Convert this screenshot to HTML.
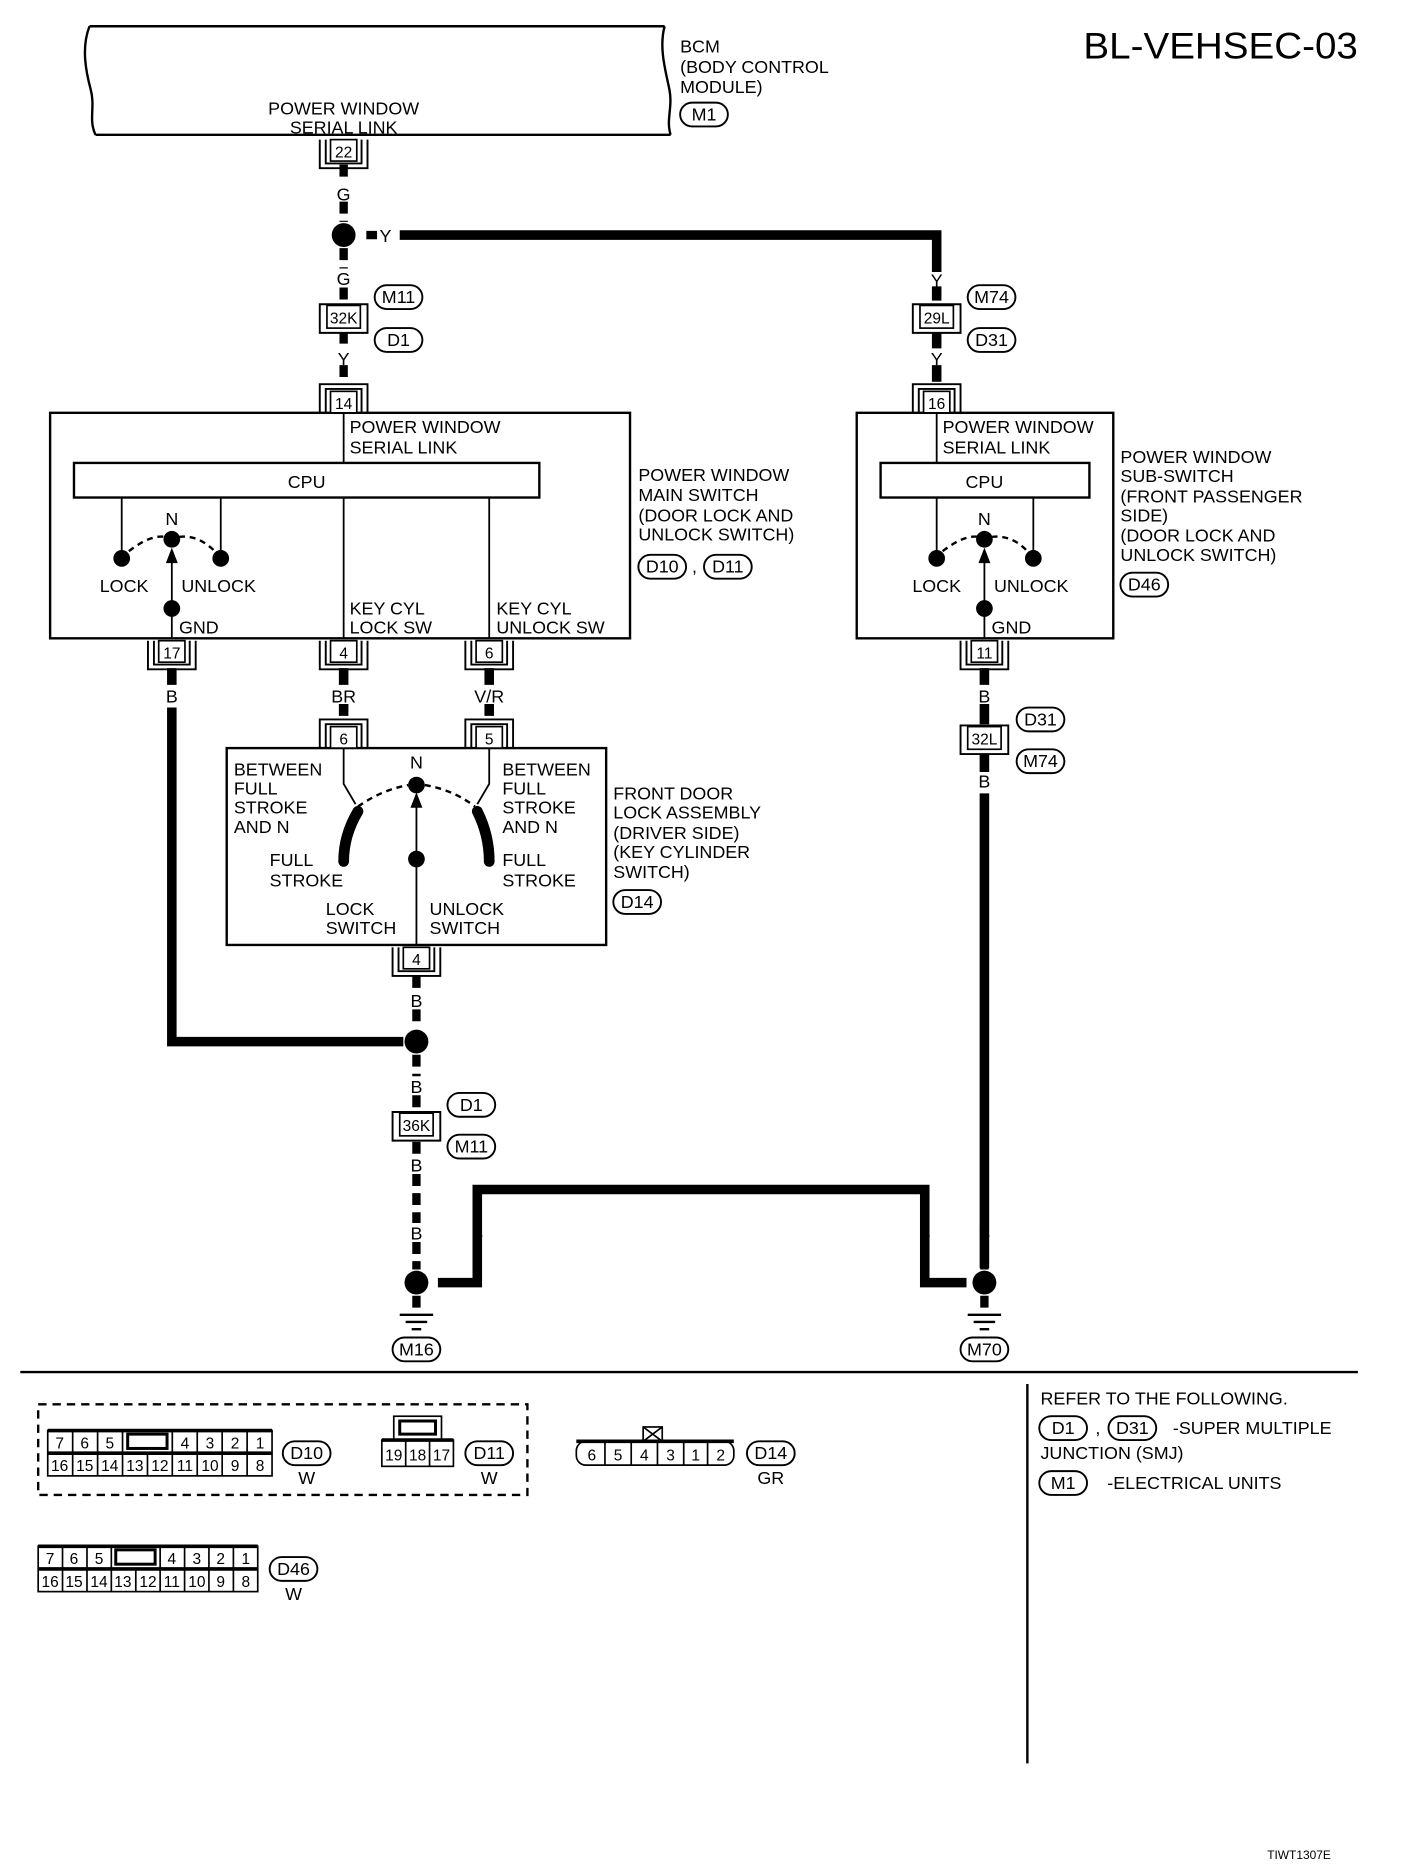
<!DOCTYPE html>
<html><head><meta charset="utf-8"><style>
html,body{margin:0;padding:0;background:#fff}
svg{display:block}
text{font-family:"Liberation Sans",sans-serif;font-size:15px;fill:#000}
.s{font-size:13px}
.m{text-anchor:middle}
</style></head><body>
<svg width="1408" height="1872" viewBox="0 0 1180 1569" preserveAspectRatio="none" xmlns="http://www.w3.org/2000/svg">
<defs>
<g id="cd"><path d="M-20,0 V24 H20 V0 M-15,0 V20 H15 V0" fill="none" stroke="#000" stroke-width="1.6"/><rect x="-11" y="0" width="22" height="18" fill="#fff" stroke="#000" stroke-width="1.4"/></g>
<g id="cu"><path d="M-20,26 V2 H20 V26 M-15,26 V6 H15 V26" fill="none" stroke="#000" stroke-width="1.6"/><rect x="-11" y="8" width="22" height="18" fill="#fff" stroke="#000" stroke-width="1.4"/></g>
<g id="ci"><path d="M-20,2 V26 H20 V2 Z" fill="#fff" stroke="#000" stroke-width="1.6"/><rect x="-14" y="3" width="28" height="19" fill="#fff" stroke="#000" stroke-width="1.4"/></g>
<g id="gnd"><path d="M-14,0 H14 M-9,6 H9 M-4,12 H4" stroke="#000" stroke-width="2"/></g>
</defs>
<g fill="none" stroke="#000" stroke-width="2">
<path d="M75,22 H557 M80,113 H562"/>
<path d="M75,22 C68,40 72,60 76,75 C80,90 74,100 80,113"/>
<path d="M557,22 C552,40 558,60 561,75 C564,90 558,100 562,113"/>
<rect x="42" y="346" width="486" height="189"/>
<rect x="62" y="388" width="390" height="29"/>
<path d="M288,346 V388 M288,417 V535 M410,417 V535 M102,417 V462 M185,417 V462 M144,535 V510 M144,504 V470" stroke-width="1.5"/>
<path d="M108,462 Q126,448 138,450 M150,450 Q166,448 180,462" stroke-dasharray="5,4"/>
<rect x="718" y="346" width="215" height="189"/>
<rect x="738" y="388" width="175" height="29"/>
<path d="M785,346 V388 M785,417 V462 M866,417 V462 M825,535 V510 M825,504 V470" stroke-width="1.5"/>
<path d="M790,462 Q808,448 820,450 M831,450 Q848,448 861,462" stroke-dasharray="5,4"/>
<rect x="190" y="627" width="318" height="165"/>
<path d="M288,627 V657 L298,674 M410,627 V657 L400,674 M349,792 V672" stroke-width="1.5"/>
<path d="M300,676 Q320,662 342,658 M356,658 Q380,662 398,676" stroke-dasharray="5,4"/>
<path d="M300,680 Q288,700 288,722 M400,680 Q410,700 410,722" stroke-width="9" stroke-linecap="round"/>
<path d="M335,197 H785 V228 M785,240 V252 M785,278 V292 M785,306 V320 M144,593 V873 H338 M825,665 V1063 M367,1075 H400 V997 H775 V1075 H810 M400,1043 V1063 M775,1043 V1063" stroke-width="8"/>
<path d="M825,560 V574 M825,590 V607 M825,632 V647" stroke-width="8"/>
<path d="M144,560 V574 M288,560 V574 M288,590 V600 M410,560 V574 M410,590 V600" stroke-width="8"/>
<path d="M288,138 V153 M288,169 V186 M288,208 V225 M288,241 V255 M288,278 V292 M288,306 V320 M307,197 H316 M349,818 V830 M349,846 V862 M349,884 V902 M349,918 V930 M349,957 V968 M349,984 V1025 M349,1041 V1064 M349,1086 V1100 M825,1041 V1064 M825,1086 V1100" stroke-width="7" stroke-dasharray="10,6"/>
</g>
<g fill="#000">
<circle cx="288" cy="197" r="10"/><circle cx="349" cy="873" r="10"/><circle cx="349" cy="1075" r="10"/><circle cx="825" cy="1075" r="10"/>
<circle cx="102" cy="468" r="7"/><circle cx="185" cy="468" r="7"/><circle cx="144" cy="452" r="7"/><circle cx="144" cy="510" r="7"/>
<circle cx="785" cy="468" r="7"/><circle cx="866" cy="468" r="7"/><circle cx="825" cy="452" r="7"/><circle cx="825" cy="510" r="7"/>
<circle cx="349" cy="658" r="7"/><circle cx="349" cy="720" r="7"/>
<path d="M144,459 L139,472 H149Z M825,459 L820,472 H830Z M349,664 L344,677 H354Z"/>
</g>
<use href="#gnd" x="349" y="1102"/><use href="#gnd" x="825" y="1102"/>
<use href="#cd" x="288" y="117"/><text class="s m" x="288" y="132">22</text>
<use href="#ci" x="288" y="253"/><text class="s m" x="288" y="271">32K</text>
<use href="#ci" x="785" y="253"/><text class="s m" x="785" y="271">29L</text>
<use href="#cu" x="288" y="320"/><text class="s m" x="288" y="343">14</text>
<use href="#cu" x="785" y="320"/><text class="s m" x="785" y="343">16</text>
<use href="#cd" x="144" y="537"/><text class="s m" x="144" y="552">17</text>
<use href="#cd" x="288" y="537"/><text class="s m" x="288" y="552">4</text>
<use href="#cd" x="410" y="537"/><text class="s m" x="410" y="552">6</text>
<use href="#cd" x="825" y="537"/><text class="s m" x="825" y="552">11</text>
<use href="#cu" x="288" y="601"/><text class="s m" x="288" y="624">6</text>
<use href="#cu" x="410" y="601"/><text class="s m" x="410" y="624">5</text>
<use href="#ci" x="825" y="606"/><text class="s m" x="825" y="624">32L</text>
<use href="#cd" x="349" y="794"/><text class="s m" x="349" y="809">4</text>
<use href="#ci" x="349" y="930"/><text class="s m" x="349" y="948">36K</text>
<g fill="none" stroke="#000" stroke-width="1.6">
<rect x="570" y="86" width="40" height="20" rx="10"/>
<rect x="314" y="239" width="40" height="20" rx="10"/><rect x="314" y="275" width="40" height="20" rx="10"/>
<rect x="811" y="239" width="40" height="20" rx="10"/><rect x="811" y="275" width="40" height="20" rx="10"/>
<rect x="535" y="465" width="40" height="20" rx="10"/><rect x="590" y="465" width="40" height="20" rx="10"/>
<rect x="939" y="480" width="40" height="20" rx="10"/>
<rect x="852" y="593" width="40" height="20" rx="10"/><rect x="852" y="628" width="40" height="20" rx="10"/>
<rect x="514" y="746" width="40" height="20" rx="10"/>
<rect x="375" y="916" width="40" height="20" rx="10"/><rect x="375" y="951" width="40" height="20" rx="10"/>
<rect x="329" y="1121" width="40" height="20" rx="10"/><rect x="805" y="1121" width="40" height="20" rx="10"/>
<rect x="237" y="1208" width="40" height="20" rx="10"/><rect x="390" y="1208" width="40" height="20" rx="10"/><rect x="626" y="1208" width="40" height="20" rx="10"/>
<rect x="226" y="1305" width="40" height="20" rx="10"/>
<rect x="871" y="1187" width="40" height="20" rx="10"/><rect x="929" y="1187" width="40" height="20" rx="10"/><rect x="871" y="1233" width="40" height="20" rx="10"/>
</g>
<g>
<text class="m" x="590" y="101">M1</text>
<text class="m" x="334" y="254">M11</text><text class="m" x="334" y="290">D1</text>
<text class="m" x="831" y="254">M74</text><text class="m" x="831" y="290">D31</text>
<text class="m" x="555" y="480">D10</text><text x="582" y="480" class="m">,</text><text class="m" x="610" y="480">D11</text>
<text class="m" x="959" y="495">D46</text>
<text class="m" x="872" y="608">D31</text><text class="m" x="872" y="643">M74</text>
<text class="m" x="534" y="761">D14</text>
<text class="m" x="395" y="931">D1</text><text class="m" x="395" y="966">M11</text>
<text class="m" x="349" y="1136">M16</text><text class="m" x="825" y="1136">M70</text>
<text class="m" x="257" y="1223">D10</text><text class="m" x="410" y="1223">D11</text><text class="m" x="646" y="1223">D14</text>
<text class="m" x="246" y="1320">D46</text>
<text class="m" x="891" y="1202">D1</text><text class="m" x="949" y="1202">D31</text><text class="m" x="891" y="1248">M1</text>
</g>
<g>
<text class="m" x="288" y="168">G</text><text x="318" y="203">Y</text>
<text class="m" x="288" y="239">G</text><text class="m" x="288" y="306">Y</text>
<text class="m" x="785" y="240">Y</text><text class="m" x="785" y="306">Y</text>
<text class="m" x="144" y="589">B</text><text class="m" x="288" y="589">BR</text><text class="m" x="410" y="589">V/R</text>
<text class="m" x="825" y="589">B</text><text class="m" x="825" y="660">B</text>
<text class="m" x="349" y="844">B</text><text class="m" x="349" y="916">B</text><text class="m" x="349" y="982">B</text>
<text class="m" x="349" y="1039">B</text><text class="m" x="400" y="1039">B</text><text class="m" x="775" y="1039">B</text><text class="m" x="825" y="1039">B</text>
</g>
<text x="908" y="49" style="font-size:31px" textLength="230" lengthAdjust="spacingAndGlyphs">BL-VEHSEC-03</text>
<text x="570" y="44">BCM</text><text x="570" y="61">(BODY CONTROL</text><text x="570" y="78"> MODULE)</text>
<text class="m" x="288" y="96">POWER WINDOW</text><text class="m" x="288" y="112">SERIAL LINK</text>
<text x="293" y="363">POWER WINDOW</text><text x="293" y="380">SERIAL LINK</text>
<text class="m" x="257" y="409">CPU</text>
<text class="m" x="144" y="440">N</text><text class="m" x="104" y="496">LOCK</text><text x="152" y="496">UNLOCK</text><text x="150" y="531">GND</text>
<text x="293" y="515">KEY CYL</text><text x="293" y="531">LOCK SW</text>
<text x="416" y="515">KEY CYL</text><text x="416" y="531">UNLOCK SW</text>
<text x="535" y="403">POWER WINDOW</text><text x="535" y="420">MAIN SWITCH</text><text x="535" y="437">(DOOR LOCK AND</text><text x="535" y="453"> UNLOCK SWITCH)</text>
<text x="790" y="363">POWER WINDOW</text><text x="790" y="380">SERIAL LINK</text>
<text class="m" x="825" y="409">CPU</text>
<text class="m" x="825" y="440">N</text><text class="m" x="785" y="496">LOCK</text><text x="833" y="496">UNLOCK</text><text x="831" y="531">GND</text>
<text x="939" y="388">POWER WINDOW</text><text x="939" y="404">SUB-SWITCH</text><text x="939" y="421">(FRONT PASSENGER</text><text x="939" y="437"> SIDE)</text><text x="939" y="454">(DOOR LOCK AND</text><text x="939" y="470"> UNLOCK SWITCH)</text>
<text class="m" x="349" y="644">N</text>
<text x="196" y="650">BETWEEN</text><text x="196" y="666">FULL</text><text x="196" y="682">STROKE</text><text x="196" y="698">AND N</text>
<text x="421" y="650">BETWEEN</text><text x="421" y="666">FULL</text><text x="421" y="682">STROKE</text><text x="421" y="698">AND N</text>
<text x="226" y="726">FULL</text><text x="226" y="743">STROKE</text><text x="421" y="726">FULL</text><text x="421" y="743">STROKE</text>
<text x="273" y="767">LOCK</text><text x="273" y="783">SWITCH</text><text x="360" y="767">UNLOCK</text><text x="360" y="783">SWITCH</text>
<text x="514" y="670">FRONT DOOR</text><text x="514" y="686">LOCK ASSEMBLY</text><text x="514" y="703">(DRIVER SIDE)</text><text x="514" y="719">(KEY CYLINDER</text><text x="514" y="736"> SWITCH)</text>
<path d="M17,1150 H1138 M861,1160 V1478" stroke="#000" stroke-width="2"/>
<rect x="32" y="1177" width="410" height="76" fill="none" stroke="#000" stroke-width="2" stroke-dasharray="7,5"/>
<g fill="none" stroke="#000" stroke-width="1.4">
<rect x="40" y="1199" width="188" height="38"/><path d="M40,1218 H228 M40,1199 H228" stroke-width="3"/>
<path d="M60.9,1199 V1237 M81.8,1199 V1237 M102.7,1199 V1218 M123.6,1218 V1237 M144.4,1199 V1237 M165.3,1199 V1237 M186.2,1199 V1237 M207.1,1199 V1237 M102.7,1218 V1237"/>
<rect x="107" y="1202" width="33" height="12" stroke-width="2.5"/>
<rect x="32" y="1296" width="184" height="38"/><path d="M32,1315 H216 M32,1296 H216" stroke-width="3"/>
<path d="M52.4,1296 V1334 M72.9,1296 V1334 M93.3,1296 V1334 M113.8,1315 V1334 M134.2,1296 V1334 M154.7,1296 V1334 M175.1,1296 V1334 M195.6,1296 V1334"/>
<rect x="97" y="1299" width="33" height="12" stroke-width="2.5"/>
<rect x="330" y="1187" width="40" height="20"/><rect x="335" y="1191" width="30" height="11" stroke-width="2.5"/>
<rect x="320" y="1207" width="60" height="22"/><path d="M320,1207 H380" stroke-width="3"/><path d="M340,1207 V1229 M360,1207 V1229"/>
<rect x="483" y="1208" width="132" height="20" rx="8"/><path d="M483,1208 H615" stroke-width="3"/>
<path d="M507,1208 V1228 M529,1208 V1228 M551,1208 V1228 M573,1208 V1228 M593,1208 V1228"/>
<rect x="539" y="1196" width="16" height="12"/><path d="M539,1196 L555,1208 M555,1196 L539,1208"/>
</g>
<g>
<text class="s m" x="50" y="1214">7</text><text class="s m" x="71" y="1214">6</text><text class="s m" x="92" y="1214">5</text><text class="s m" x="155" y="1214">4</text><text class="s m" x="176" y="1214">3</text><text class="s m" x="197" y="1214">2</text><text class="s m" x="218" y="1214">1</text>
<text class="s m" x="50" y="1233">16</text><text class="s m" x="71" y="1233">15</text><text class="s m" x="92" y="1233">14</text><text class="s m" x="113" y="1233">13</text><text class="s m" x="134" y="1233">12</text><text class="s m" x="155" y="1233">11</text><text class="s m" x="176" y="1233">10</text><text class="s m" x="197" y="1233">9</text><text class="s m" x="218" y="1233">8</text>
<text class="s m" x="42" y="1311">7</text><text class="s m" x="62" y="1311">6</text><text class="s m" x="83" y="1311">5</text><text class="s m" x="144" y="1311">4</text><text class="s m" x="165" y="1311">3</text><text class="s m" x="185" y="1311">2</text><text class="s m" x="206" y="1311">1</text>
<text class="s m" x="42" y="1330">16</text><text class="s m" x="62" y="1330">15</text><text class="s m" x="83" y="1330">14</text><text class="s m" x="103" y="1330">13</text><text class="s m" x="124" y="1330">12</text><text class="s m" x="144" y="1330">11</text><text class="s m" x="165" y="1330">10</text><text class="s m" x="185" y="1330">9</text><text class="s m" x="206" y="1330">8</text>
<text class="s m" x="330" y="1224">19</text><text class="s m" x="350" y="1224">18</text><text class="s m" x="370" y="1224">17</text>
<text class="s m" x="496" y="1224">6</text><text class="s m" x="518" y="1224">5</text><text class="s m" x="540" y="1224">4</text><text class="s m" x="562" y="1224">3</text><text class="s m" x="583" y="1224">1</text><text class="s m" x="604" y="1224">2</text>
</g>
<text class="m" x="257" y="1244">W</text><text class="m" x="410" y="1244">W</text><text class="m" x="646" y="1244">GR</text><text class="m" x="246" y="1341">W</text>
<text x="872" y="1177">REFER TO THE FOLLOWING.</text>
<text x="918" y="1202">,</text><text x="983" y="1202">-SUPER MULTIPLE</text>
<text x="872" y="1223">JUNCTION (SMJ)</text>
<text x="928" y="1248">-ELECTRICAL UNITS</text>
<text x="1062" y="1558" style="font-size:10px">TIWT1307E</text>
</svg>
</body></html>
